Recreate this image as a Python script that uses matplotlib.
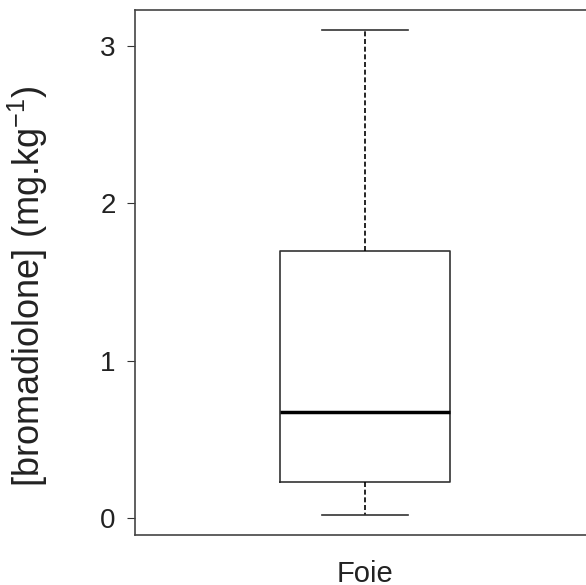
import matplotlib
matplotlib.use('Agg')
import matplotlib.pyplot as plt

# boxplot statistics (mg/kg)
labels = ['Foie']
whislo = [0.02]
q1 = [0.23]
med = [0.675]
q3 = [1.70]
whishi = [3.10]

plt.rcParams['font.family'] = ['Liberation Sans', 'DejaVu Sans']
plt.rcParams['mathtext.fontset'] = 'custom'
plt.rcParams['mathtext.rm'] = 'Liberation Sans'
plt.rcParams['mathtext.it'] = 'Liberation Sans'

stats = []
for i in range(len(labels)):
    stats.append({'label': labels[i], 'whislo': whislo[i], 'q1': q1[i],
                  'med': med[i], 'q3': q3[i], 'whishi': whishi[i], 'fliers': []})

fig = plt.figure(figsize=(5.86, 5.85), dpi=100)
ax = fig.add_axes([135/586, 1-535/585, 460/586, 525/585])

ax.bxp(stats, positions=[1], widths=0.37, showfliers=False,
       boxprops=dict(color='#333333', linewidth=1.2),
       medianprops=dict(color='black', linewidth=2.5),
       whiskerprops=dict(color='black', linewidth=1.2, linestyle=(0, (3, 1.6))),
       capprops=dict(color='#333333', linewidth=1.2))

ax.set_xlim(0.5, 1.5)
ax.set_ylim(-0.108, 3.23)
ax.set_yticks([0, 1, 2, 3])
ax.set_xticks([])
ax.tick_params(axis='y', direction='out', length=6, width=0.8, pad=8,
               labelsize=20, color='#333333', labelcolor='#222222')
for s in ax.spines.values():
    s.set_color('#444444')
    s.set_linewidth(1.2)

# axis title and category label placed where the reference has them
fig.text(28/586, 1-286/585, '[bromadiolone] (mg.kg$^{-1}$)', fontsize=26,
         rotation=90, ha='center', va='center', color='#222222')
fig.text(365/586, 1-582/585, labels[0], ha='center', va='baseline',
         fontsize=21, color='#222222')

plt.savefig('out.png', dpi=100)
plt.close('all')
